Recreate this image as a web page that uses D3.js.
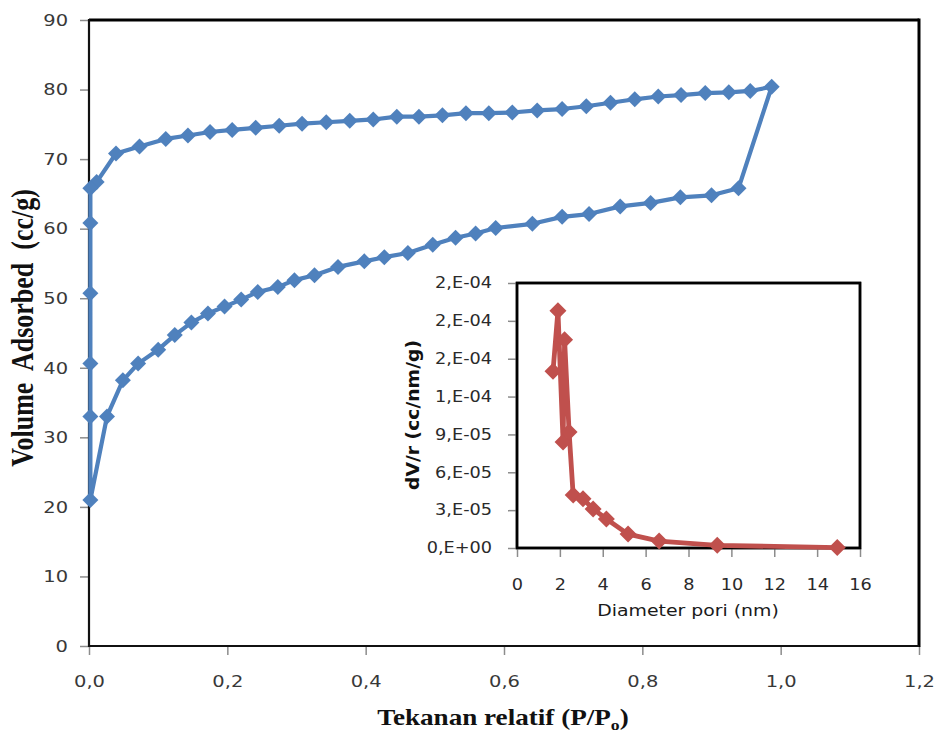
<!DOCTYPE html>
<html>
<head>
<meta charset="utf-8">
<script src="https://cdn.jsdelivr.net/npm/d3@7"></script>
<style>
  body { margin: 0; background: #fff; }
  svg { display: block; }
</style>
</head>
<body>
<svg id="chart" width="936" height="738"></svg>
<script>
  // adsorption branch (P/Po, cc/g), ends at the top point
  var adsP = [0.002, 0.026, 0.049, 0.071, 0.100, 0.124, 0.148, 0.172, 0.196, 0.220,
              0.244, 0.273, 0.297, 0.326, 0.360, 0.398, 0.427, 0.461, 0.497, 0.530,
              0.559, 0.588, 0.641, 0.684, 0.723, 0.768, 0.812, 0.855, 0.900, 0.939, 0.987];
  var adsV = [21.0, 33.0, 38.2, 40.6, 42.6, 44.7, 46.5, 47.8, 48.8, 49.8,
              50.9, 51.6, 52.6, 53.3, 54.5, 55.3, 55.9, 56.5, 57.7, 58.7,
              59.3, 60.1, 60.7, 61.7, 62.1, 63.2, 63.7, 64.5, 64.8, 65.8, 80.4];

  // desorption branch, back down to low pressure
  var desP = [0.956, 0.925, 0.891, 0.856, 0.823, 0.789, 0.754, 0.719, 0.684, 0.648,
              0.612, 0.578, 0.545, 0.511, 0.477, 0.445, 0.411, 0.377, 0.343, 0.308,
              0.275, 0.241, 0.207, 0.175, 0.143, 0.111, 0.073, 0.039, 0.011, 0.002,
              0.002, 0.002, 0.002, 0.002];
  var desV = [79.8, 79.6, 79.5, 79.2, 79.0, 78.6, 78.1, 77.6, 77.2, 77.0,
              76.7, 76.6, 76.6, 76.3, 76.1, 76.1, 75.7, 75.5, 75.3, 75.1,
              74.8, 74.5, 74.2, 73.9, 73.4, 72.9, 71.8, 70.8, 66.7, 65.8,
              60.8, 50.7, 40.6, 33.0];

  // inset: pore size distribution
  var poreD  = [1.68, 1.91, 2.15, 2.22, 2.43, 2.62, 3.08, 3.55, 4.17, 5.18, 6.63, 9.34, 14.94];
  var poreDV = [1.40e-4, 1.88e-4, 8.4e-5, 1.65e-4, 9.2e-5, 4.2e-5, 3.9e-5, 3.1e-5,
                2.3e-5, 1.1e-5, 5.5e-6, 2.1e-6, 3e-7];

  var xTicks = [0, 0.2, 0.4, 0.6, 0.8, 1.0, 1.2];
  var xTickLabels = ["0,0", "0,2", "0,4", "0,6", "0,8", "1,0", "1,2"];
  var yTicks = [0, 10, 20, 30, 40, 50, 60, 70, 80, 90];
  var insetXTicks = [0, 2, 4, 6, 8, 10, 12, 14, 16];
  var insetYTicks = [0, 3e-5, 6e-5, 9e-5, 1.2e-4, 1.5e-4, 1.8e-4, 2.1e-4];
  var insetYTickLabels = ["0,E+00", "3,E-05", "6,E-05", "9,E-05", "1,E-04", "2,E-04", "2,E-04", "2,E-04"];

  var BLUE = "#4F81BD", RED = "#C0504D";
  var SX = 1.18; // the picture is stretched horizontally a bit

  var svg = d3.select("#chart");

  var x = d3.scaleLinear().domain([0, 1.2]).range([89, 919]);
  var y = d3.scaleLinear().domain([0, 90]).range([646, 20]);
  var ix = d3.scaleLinear().domain([0, 16]).range([517, 860]);
  var iy = d3.scaleLinear().domain([0, 2.1e-4]).range([548, 283]);

  function diamond(r) {
    return "M0," + (-r) + "L" + r + ",0L0," + r + "L" + (-r) + ",0Z";
  }

  function styleAxis(g, size, color) {
    g.select(".domain").remove();
    g.selectAll(".tick line").attr("stroke", "#8c8c8c").attr("stroke-width", 1.5);
    g.selectAll(".tick text")
      .attr("fill", color)
      .style("font-family", "'DejaVu Sans', sans-serif")
      .style("font-size", size + "px");
  }

  // main axes
  var gx = svg.append("g")
      .attr("transform", "translate(0,646)")
      .call(d3.axisBottom(x).tickValues(xTicks)
        .tickFormat(function(d, i) { return xTickLabels[i]; })
        .tickSize(9).tickPadding(20));
  styleAxis(gx, 16.5, "#383838");
  gx.selectAll(".tick text").attr("transform", "scale(" + SX + ",1)");

  var gy = svg.append("g")
      .attr("transform", "translate(89,0)")
      .call(d3.axisLeft(y).tickValues(yTicks).tickSize(9).tickPadding(12));
  styleAxis(gy, 16.5, "#383838");
  gy.selectAll(".tick text")
    .attr("x", -21 / SX)
    .attr("transform", "scale(" + SX + ",1)");

  // frame
  svg.append("line").attr("x1", 89).attr("x2", 919).attr("y1", 20).attr("y2", 20)
    .attr("stroke", "#000").attr("stroke-width", 3);
  svg.append("line").attr("x1", 919).attr("x2", 919).attr("y1", 18.5).attr("y2", 647)
    .attr("stroke", "#000").attr("stroke-width", 3);
  svg.append("line").attr("x1", 89).attr("x2", 919).attr("y1", 646).attr("y2", 646)
    .attr("stroke", "#111").attr("stroke-width", 2.2);
  svg.append("line").attr("x1", 89).attr("x2", 89).attr("y1", 19).attr("y2", 647)
    .attr("stroke", "#111").attr("stroke-width", 2.2);

  // isotherm as one closed loop
  var iso = adsP.map(function(p, i) { return [p, adsV[i]]; })
    .concat(desP.map(function(p, i) { return [p, desV[i]]; }));

  svg.append("path")
    .datum(iso)
    .attr("fill", "none")
    .attr("stroke", BLUE)
    .attr("stroke-width", 4.2)
    .attr("stroke-linejoin", "round")
    .attr("d", d3.line()
      .x(function(d) { return x(d[0]); })
      .y(function(d) { return y(d[1]); })
      .curve(d3.curveLinearClosed));

  svg.append("g").selectAll("path.pt")
    .data(iso)
    .enter().append("path")
    .attr("class", "pt")
    .attr("d", diamond(8))
    .attr("fill", BLUE)
    .attr("transform", function(d) { return "translate(" + x(d[0]) + "," + y(d[1]) + ")"; });

  // axis titles
  var xt = svg.append("text")
    .attr("transform", "translate(503,725) scale(" + SX + ",1)")
    .attr("text-anchor", "middle")
    .style("font-family", "'Liberation Serif', 'Times New Roman', serif")
    .style("font-weight", "bold")
    .style("font-size", "23px")
    .attr("fill", "#111");
  xt.append("tspan").text("Tekanan relatif (P/P");
  xt.append("tspan").attr("dy", 5).style("font-size", "15px").text("o");
  xt.append("tspan").attr("dy", -5).text(")");

  svg.append("text")
    .attr("transform", "translate(33,328) scale(" + SX + ",1) rotate(-90)")
    .attr("text-anchor", "middle")
    .style("font-family", "'Liberation Serif', 'Times New Roman', serif")
    .style("font-weight", "bold")
    .style("font-size", "26px")
    .style("white-space", "pre")
    .attr("fill", "#111")
    .text("Volume  Adsorbed  (cc/g)");

  // inset
  svg.append("rect")
    .attr("x", 517).attr("y", 283)
    .attr("width", 343).attr("height", 265)
    .attr("fill", "#fff")
    .attr("stroke", "#000")
    .attr("stroke-width", 2.5);

  var igx = svg.append("g")
      .attr("transform", "translate(0,548)")
      .call(d3.axisBottom(ix).tickValues(insetXTicks).tickSize(9).tickPadding(22));
  styleAxis(igx, 15, "#2a2a2a");
  igx.selectAll(".tick text").attr("transform", "scale(" + SX + ",1)");

  var igy = svg.append("g")
      .attr("transform", "translate(517,0)")
      .call(d3.axisLeft(iy).tickValues(insetYTicks)
        .tickFormat(function(d, i) { return insetYTickLabels[i]; })
        .tickSize(9).tickPadding(16));
  styleAxis(igy, 15, "#2a2a2a");
  igy.selectAll(".tick text")
    .attr("x", -25 / SX)
    .attr("transform", "scale(" + SX + ",1)");

  // redraw the inset frame over the tick lines
  svg.append("rect")
    .attr("x", 517).attr("y", 283)
    .attr("width", 343).attr("height", 265)
    .attr("fill", "none")
    .attr("stroke", "#000")
    .attr("stroke-width", 2.5);

  var pore = poreD.map(function(d, i) { return [d, poreDV[i]]; });

  svg.append("path")
    .datum(pore)
    .attr("fill", "none")
    .attr("stroke", RED)
    .attr("stroke-width", 4.8)
    .attr("stroke-linejoin", "round")
    .attr("d", d3.line()
      .x(function(d) { return ix(d[0]); })
      .y(function(d) { return iy(d[1]); }));

  svg.append("g").selectAll("path.ipt")
    .data(pore)
    .enter().append("path")
    .attr("class", "ipt")
    .attr("d", diamond(8.5))
    .attr("fill", RED)
    .attr("transform", function(d) { return "translate(" + ix(d[0]) + "," + iy(d[1]) + ")"; });

  svg.append("text")
    .attr("transform", "translate(688,616) scale(" + SX + ",1)")
    .attr("text-anchor", "middle")
    .style("font-family", "'DejaVu Sans', sans-serif")
    .style("font-size", "16px")
    .attr("fill", "#1a1a1a")
    .text("Diameter pori (nm)");

  svg.append("text")
    .attr("transform", "translate(419,415) scale(" + SX + ",1) rotate(-90)")
    .attr("text-anchor", "middle")
    .attr("textLength", 150)
    .attr("lengthAdjust", "spacingAndGlyphs")
    .style("font-family", "'DejaVu Sans', sans-serif")
    .style("font-weight", "bold")
    .style("font-size", "15px")
    .attr("fill", "#111")
    .text("dV/r (cc/nm/g)");
</script>
</body>
</html>
